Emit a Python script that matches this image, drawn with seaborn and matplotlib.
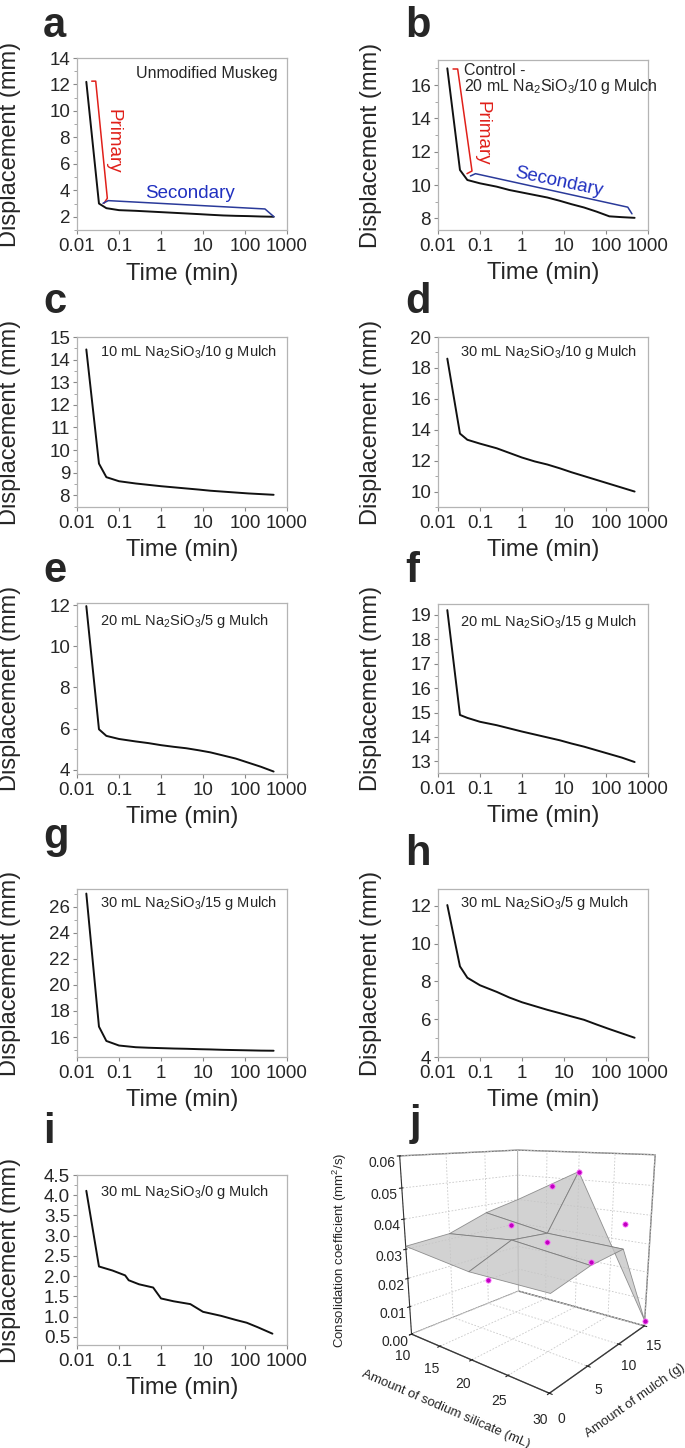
import numpy as np
import pandas as pd
import matplotlib
matplotlib.use("Agg")
import matplotlib.pyplot as plt
import seaborn as sns
from matplotlib.ticker import AutoMinorLocator, LogLocator, NullFormatter, FormatStrFormatter

# ---------------- data ----------------
time_min = [1/60, 2/60, 3/60, 0.1, 0.25, 0.5, 1, 2, 4, 8, 15, 30, 60, 120, 240, 480]

disp_a = [12.2, 3.0, 2.65, 2.5, 2.45, 2.4, 2.35, 2.3, 2.25, 2.2, 2.15, 2.1, 2.07, 2.05, 2.02, 2.0]
disp_b = [17.0, 10.9, 10.3, 10.1, 9.9, 9.7, 9.55, 9.4, 9.25, 9.05, 8.85, 8.65, 8.4, 8.12, 8.07, 8.03]
disp_c = [14.45, 9.4, 8.8, 8.62, 8.52, 8.46, 8.4, 8.35, 8.3, 8.25, 8.2, 8.16, 8.12, 8.08, 8.05, 8.02]
disp_d = [18.6, 13.75, 13.35, 13.1, 12.8, 12.5, 12.2, 11.95, 11.75, 11.5, 11.25, 11.0, 10.75, 10.5, 10.25, 10.0]
disp_e = [11.95, 5.97, 5.65, 5.5, 5.38, 5.3, 5.2, 5.12, 5.05, 4.95, 4.85, 4.7, 4.55, 4.35, 4.15, 3.92]
disp_f = [19.2, 14.9, 14.78, 14.62, 14.48, 14.35, 14.22, 14.1, 13.98, 13.86, 13.73, 13.6, 13.45, 13.3, 13.15, 12.97]
disp_g = [27.0, 16.8, 15.7, 15.35, 15.22, 15.18, 15.15, 15.12, 15.1, 15.07, 15.05, 15.02, 15.0, 14.98, 14.96, 14.95]
disp_h = [12.05, 8.8, 8.2, 7.8, 7.45, 7.15, 6.9, 6.7, 6.5, 6.32, 6.15, 5.97, 5.72, 5.48, 5.25, 5.02]

time_i = [1/60, 2/60, 0.07, 0.14, 0.17, 0.3, 0.65, 1.0, 2.0, 5.0, 10, 27, 60, 110, 200, 450]
disp_i = [4.11, 2.24, 2.14, 2.02, 1.9, 1.8, 1.72, 1.45, 1.38, 1.31, 1.12, 1.02, 0.92, 0.85, 0.74, 0.58]

labels_text = {
    "a": "Unmodified Muskeg",
    "b": "20 mL Na$_2$SiO$_3$/10 g Mulch",
    "c": "10 mL Na$_2$SiO$_3$/10 g Mulch",
    "d": "30 mL Na$_2$SiO$_3$/10 g Mulch",
    "e": "20 mL Na$_2$SiO$_3$/5 g Mulch",
    "f": "20 mL Na$_2$SiO$_3$/15 g Mulch",
    "g": "30 mL Na$_2$SiO$_3$/15 g Mulch",
    "h": "30 mL Na$_2$SiO$_3$/5 g Mulch",
    "i": "30 mL Na$_2$SiO$_3$/0 g Mulch",
}

# annotation brackets (time, displacement)
primary_a_t = [0.0224, 0.0279, 0.0527, 0.044]
primary_a_y = [12.25, 12.25, 3.40, 3.02]
secondary_a_t = [0.0416, 0.0556, 299, 490]
secondary_a_y = [3.02, 3.22, 2.59, 2.0]
primary_b_t = [0.0228, 0.0294, 0.0645, 0.049]
primary_b_y = [16.96, 16.96, 10.84, 10.68]
secondary_b_t = [0.059, 0.078, 330, 415]
secondary_b_y = [10.54, 10.68, 8.67, 8.27]

# panel j: consolidation coefficient
sil_grid = [10, 20, 30]
mulch_grid = [0, 5, 10, 15]
cv_surface = [[0.031, 0.032, 0.037, 0.040],
              [0.028, 0.034, 0.033, 0.053],
              [0.028, 0.031, 0.032, 0.002]]
pt_sil = [10, 20, 20, 20, 30, 30, 30, 30]
pt_mulch = [10, 5, 10, 15, 0, 5, 10, 15]
pt_cv = [0.010, 0.039, 0.030, 0.053, 0.055, 0.032, 0.040, 0.002]

# ---------------- style ----------------
sns.set_style("ticks")
plt.rcParams["font.family"] = ["Liberation Sans", "DejaVu Sans"]
plt.rcParams["mathtext.default"] = "regular"

W, H = 685, 1448
fig = plt.figure(figsize=(W / 100, H / 100), dpi=100)


def box(l, t, r, b):
    return [l / W, 1 - b / H, (r - l) / W, (b - t) / H]


panels = [
    ("a", (77, 58, 287, 230), time_min, disp_a, (1.0, 14.0), np.arange(2, 15, 2), "%d"),
    ("b", (438, 60, 648, 230), time_min, disp_b, (7.3, 17.5), np.arange(8, 17, 2), "%d"),
    ("c", (77, 337, 287, 507), time_min, disp_c, (7.48, 15.0), np.arange(8, 16, 1), "%d"),
    ("d", (438, 337, 648, 507), time_min, disp_d, (9.0, 20.0), np.arange(10, 21, 2), "%d"),
    ("e", (77, 603, 287, 774), time_min, disp_e, (3.8, 12.1), np.arange(4, 13, 2), "%d"),
    ("f", (438, 604, 648, 773), time_min, disp_f, (12.52, 19.45), np.arange(13, 20, 1), "%d"),
    ("g", (77, 889, 287, 1057), time_min, disp_g, (14.47, 27.35), np.arange(16, 27, 2), "%d"),
    ("h", (438, 889, 648, 1057), time_min, disp_h, (4.0, 12.9), np.arange(4, 13, 2), "%d"),
    ("i", (77, 1175, 287, 1345), time_i, disp_i, (0.3, 4.5), np.arange(0.5, 4.51, 0.5), "%.1f"),
]

text_pos = {
    "a": (0.957, 0.907, "right"),
    "c": (0.11, 0.91, "left"),
    "d": (0.105, 0.914, "left"),
    "e": (0.11, 0.895, "left"),
    "f": (0.105, 0.895, "left"),
    "g": (0.11, 0.917, "left"),
    "h": (0.105, 0.917, "left"),
    "i": (0.11, 0.90, "left"),
}

letter_pos = {"a": (43, 37), "b": (405, 37), "c": (43, 313), "d": (405, 313),
              "e": (43, 582), "f": (405, 582), "g": (43, 848), "h": (405, 865),
              "i": (43, 1143), "j": (410, 1135)}

spine_c = "#b4b4b4"
for key, bx, tt, yy, ylim, yt, fmt in panels:
    ax = fig.add_axes(box(*bx))
    df = pd.DataFrame({"t": tt, "y": yy})
    sns.lineplot(data=df, x="t", y="y", ax=ax, color="#111111", lw=1.4,
                 estimator=None, sort=False)
    ax.set_xscale("log")
    ax.set_xlim(0.01, 1000)
    ax.set_xticks([0.01, 0.1, 1, 10, 100, 1000])
    ax.set_xticklabels(["0.01", "0.1", "1", "10", "100", "1000"])
    ax.xaxis.set_minor_locator(LogLocator(base=10, subs=np.arange(2, 10)))
    ax.xaxis.set_minor_formatter(NullFormatter())
    ax.set_ylim(*ylim)
    ax.set_yticks(yt)
    ax.yaxis.set_major_formatter(FormatStrFormatter(fmt))
    ax.yaxis.set_minor_locator(AutoMinorLocator(2))
    for s in ax.spines.values():
        s.set_visible(True)
        s.set_color(spine_c)
        s.set_linewidth(0.9)
    ax.tick_params(which="major", direction="out", length=3, width=0.8,
                   color="#888888", labelsize=13.5, pad=2)
    ax.tick_params(axis="x", which="major", pad=3)
    ax.tick_params(which="minor", direction="out", length=2, width=0.6, color="#999999")
    ax.set_xlabel("Time (min)", fontsize=17)
    ax.set_ylabel("Displacement (mm)", fontsize=17)
    ax.xaxis.set_label_coords(0.5, -0.19)
    ax.yaxis.set_label_coords(-0.268, 0.5)
    if key in text_pos:
        x0, y0, ha = text_pos[key]
        ax.text(x0, y0, labels_text[key], transform=ax.transAxes, ha=ha, va="center",
                fontsize=11.5 if key == "a" else 10.5)
    if key == "a":
        ax.plot(primary_a_t, primary_a_y, color="#e0201a", lw=1.1)
        ax.plot(secondary_a_t, secondary_a_y, color="#2a3a9a", lw=1.1)
        ax.text(0.072, 7.7, "Primary", color="#e0201a", fontsize=13.5, rotation=-90,
                ha="center", va="center")
        ax.text(4.9, 3.78, "Secondary", color="#2030c0", fontsize=13.5,
                ha="center", va="center")
    if key == "b":
        ax.text(0.122, 0.94, "Control -", transform=ax.transAxes, ha="left",
                va="center", fontsize=11.5)
        ax.text(0.122, 0.845, labels_text["b"], transform=ax.transAxes, ha="left",
                va="center", fontsize=11.5)
        ax.plot(primary_b_t, primary_b_y, color="#e0201a", lw=1.1)
        ax.plot(secondary_b_t, secondary_b_y, color="#2a3a9a", lw=1.1)
        ax.text(0.112, 13.1, "Primary", color="#e0201a", fontsize=13.5, rotation=-90,
                ha="center", va="center")
        ax.text(7.5, 10.17, "Secondary", color="#2030c0", fontsize=13.5, rotation=-12,
                ha="center", va="center")

for k, (x, y) in letter_pos.items():
    fig.text(x / W, 1 - y / H, k, fontsize=30, fontweight="bold", ha="left",
             va="baseline")

# ---------------- panel j (3D) ----------------
with plt.rc_context({"grid.color": "#c8c8c8", "grid.linestyle": (0, (2, 2)),
                     "grid.linewidth": 0.6, "axes3d.grid": True}):
    ax3 = fig.add_axes(box(366, 1090, 686, 1412), projection="3d")
    ax3.patch.set_visible(False)
    ax3.set_proj_type("persp", focal_length=0.27)
    S, M = np.meshgrid(sil_grid, mulch_grid, indexing="ij")
    Z = np.array(cv_surface)
    ax3.plot_surface(S, M, Z, color="#c4c4c4", alpha=0.75, edgecolor="#707070",
                     linewidth=0.6, shade=False)
    ax3.scatter(pt_sil, pt_mulch, pt_cv, color="#c000c0", edgecolor="#ff70ff",
                s=14, linewidth=0.6, depthshade=False)
    ax3.set_xlim(10, 30)
    ax3.set_ylim(0, 15)
    ax3.set_zlim(0, 0.06)
    ax3.set_xticks([10, 15, 20, 25, 30])
    ax3.set_yticks([0, 5, 10, 15])
    ax3.set_zticks(np.arange(0, 0.061, 0.01))
    ax3.zaxis.set_major_formatter(FormatStrFormatter("%.2f"))
    ax3.view_init(elev=14, azim=-51)
    ax3.set_box_aspect((1.04, 1.0, 1.06), zoom=0.92)
    ax3.zaxis.set_ticks_position("lower")
    ax3.zaxis.set_label_position("lower")
    for axis in (ax3.xaxis, ax3.yaxis, ax3.zaxis):
        axis.set_pane_color((1, 1, 1, 1))
        axis.pane.set_edgecolor("#7a7a7a")
        axis.line.set_color("#333333")
    ax3.tick_params(axis="both", labelsize=10, pad=0)
    ax3.set_xlabel("Amount of sodium silicate (mL)", fontsize=9.5, labelpad=2)
    ax3.set_ylabel("Amount of mulch (g)", fontsize=9.5, labelpad=2)
    ax3.zaxis.set_rotate_label(False)
    ax3.set_zlabel("Consolidation coefficient (mm$^2$/s)", fontsize=9.5, labelpad=10,
                   rotation=90)

fig.savefig("out.png", dpi=100)
